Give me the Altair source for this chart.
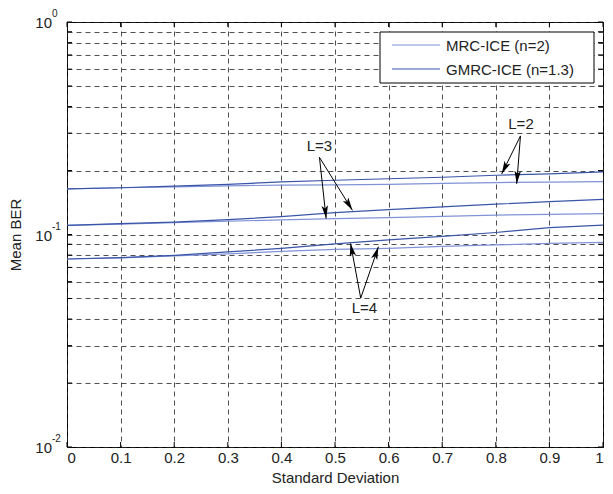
import math
import altair as alt
import pandas as pd

# ---------------- data ----------------
x_vals = [0.0, 0.1, 0.2, 0.3, 0.4, 0.5, 0.6, 0.7, 0.8, 0.9, 1.0]

gmrc_L2 = [0.164, 0.166, 0.169, 0.172, 0.177, 0.180, 0.183, 0.186, 0.190, 0.193, 0.197]
mrc_L2 = [0.164, 0.166, 0.1676, 0.1695, 0.1707, 0.1712, 0.1722, 0.1740, 0.1756, 0.1765, 0.1775]
gmrc_L3 = [0.1105, 0.1126, 0.1144, 0.1175, 0.1214, 0.1267, 0.1309, 0.1348, 0.1389, 0.1427, 0.1462]
mrc_L3 = [0.1105, 0.1119, 0.1138, 0.1156, 0.1171, 0.1188, 0.1201, 0.1218, 0.1234, 0.1243, 0.1253]
gmrc_L4 = [0.0767, 0.0778, 0.0798, 0.0828, 0.0860, 0.0903, 0.0943, 0.0979, 0.1022, 0.1078, 0.1108]
mrc_L4 = [0.0767, 0.0776, 0.0793, 0.0811, 0.0833, 0.0851, 0.0860, 0.0879, 0.0893, 0.0908, 0.0918]

series_names = ["MRC-ICE (n=2)", "GMRC-ICE (n=1.3)"]
series_colors = ["#8193d6", "#3a55a8"]

x_ticks = [0.0, 0.1, 0.2, 0.3, 0.4, 0.5, 0.6, 0.7, 0.8, 0.9, 1.0]
y_ticks = [0.01, 0.02, 0.03, 0.04, 0.05, 0.06, 0.07, 0.08, 0.09,
           0.1, 0.2, 0.3, 0.4, 0.5, 0.6, 0.7, 0.8, 0.9, 1.0]
y_major = [0.01, 0.1, 1.0]
y_major_exp = ["-2", "-1", "0"]

ann_text = ["L=2", "L=3", "L=4"]
ann_x = [0.847, 0.471, 0.555]
ann_y = [0.330, 0.261, 0.0451]

arrow_x1 = [0.846, 0.846, 0.471, 0.471, 0.548, 0.548]
arrow_y1 = [0.291, 0.291, 0.2307, 0.2307, 0.0502, 0.0502]
arrow_x2 = [0.811, 0.839, 0.4835, 0.5325, 0.529, 0.581]
arrow_y2 = [0.1928, 0.1731, 0.1188, 0.1299, 0.0908, 0.0876]

# ---------------- layout ----------------
W, H = 536, 425
FONT = "Liberation Sans"
TXT = "#222222"

rows = []
for L, mrc, gmrc in [("2", mrc_L2, gmrc_L2), ("3", mrc_L3, gmrc_L3), ("4", mrc_L4, gmrc_L4)]:
    for name, vals in zip(series_names, [mrc, gmrc]):
        for xv, yv in zip(x_vals, vals):
            rows.append({"x": xv, "ber": yv, "scheme": name, "curve": name + L})
df = pd.DataFrame(rows)

xs = alt.Scale(domain=[0, 1], nice=False, zero=False)
ys = alt.Scale(type="log", domain=[0.01, 1], nice=False)
cs = alt.Scale(domain=series_names, range=series_colors)

ax_x = alt.Axis(
    values=x_ticks, title="Standard Deviation", grid=True, ticks=False, domain=False,
    labelExpr="datum.value == 0 ? '0' : (datum.value == 1 ? '1' : format(datum.value, '.1f'))",
    labelFontSize=15, labelFont=FONT, labelColor=TXT, labelPadding=3,
    titleFontSize=15, titleFont=FONT, titleFontWeight="normal", titleColor=TXT, titlePadding=5,
    gridDash=[5, 4], gridColor="#222222", gridWidth=0.8)
ax_y = alt.Axis(
    values=y_ticks, title="Mean BER", grid=True, ticks=False, domain=False, labels=False,
    titleFontSize=15, titleFont=FONT, titleFontWeight="normal", titleColor=TXT, titlePadding=44,
    gridDash=[5, 4], gridColor="#222222", gridWidth=0.8)

XA = lambda f: alt.X(f, scale=xs, axis=ax_x)
YA = lambda f: alt.Y(f, scale=ys, axis=ax_y)

lines = alt.Chart(df).mark_line(strokeWidth=1.2).encode(
    x=XA("x:Q"), y=YA("ber:Q"),
    color=alt.Color("scheme:N", scale=cs, legend=None),
    detail="curve:N",
)

# inward ticks on all four sides
xt = pd.DataFrame({"x": x_ticks})
yt = pd.DataFrame({"ber": y_ticks})
tick_b = alt.Chart(xt).mark_rule(color="black", strokeWidth=1).encode(
    x=XA("x:Q"), y=alt.value(H), y2=alt.value(H - 5))
tick_t = alt.Chart(xt).mark_rule(color="black", strokeWidth=1).encode(
    x=XA("x:Q"), y=alt.value(0), y2=alt.value(5))
tick_l = alt.Chart(yt).mark_rule(color="black", strokeWidth=1).encode(
    y=YA("ber:Q"), x=alt.value(0), x2=alt.value(5))
tick_r = alt.Chart(yt).mark_rule(color="black", strokeWidth=1).encode(
    y=YA("ber:Q"), x=alt.value(W), x2=alt.value(W - 5))

# y tick labels 10^k
ym = pd.DataFrame({"ber": y_major, "base": ["10"] * 3, "exp": y_major_exp})
ylab_base = alt.Chart(ym).mark_text(align="right", baseline="middle", fontSize=15, font=FONT,
                                    color=TXT, dy=1).encode(
    y=YA("ber:Q"), x=alt.value(-15), text="base:N")
ylab_exp = alt.Chart(ym).mark_text(align="left", baseline="middle", fontSize=10, font=FONT,
                                   color=TXT, dy=-8).encode(
    y=YA("ber:Q"), x=alt.value(-15), text="exp:N")

# annotations
ann = pd.DataFrame({"x": ann_x, "ber": ann_y, "t": ann_text})
ann_layer = alt.Chart(ann).mark_text(fontSize=15, font=FONT, color=TXT, baseline="middle").encode(
    x=XA("x:Q"), y=YA("ber:Q"), text="t:N")

angles = []
for x1, y1, x2, y2 in zip(arrow_x1, arrow_y1, arrow_x2, arrow_y2):
    dx = (x2 - x1) * W
    dy = -(math.log10(y2) - math.log10(y1)) * H / 2
    angles.append(math.degrees(math.atan2(dx, -dy)) % 360)
arr = pd.DataFrame({"x": arrow_x1, "ber": arrow_y1, "x2": arrow_x2, "ber2": arrow_y2, "ang": angles})
shafts = alt.Chart(arr).mark_rule(color="black", strokeWidth=1).encode(
    x=XA("x:Q"), y=YA("ber:Q"), x2="x2:Q", y2="ber2:Q")
heads = alt.Chart(arr).mark_point(shape="M0,0 L-0.5,2 L0,1.55 L0.5,2 Z", filled=True, size=169,
                                  color="black", opacity=1, strokeWidth=0).encode(
    x=XA("x2:Q"), y=YA("ber2:Q"), angle=alt.Angle("ang:Q", scale=None))

# legend (drawn manually)
BX1, BX2 = W - 9 - 214, W - 9
leg_box = alt.Chart(pd.DataFrame({"k": [0]})).mark_rect(fill="white", stroke="black", strokeWidth=1).encode(
    x=alt.value(BX1), x2=alt.value(BX2), y=alt.value(10), y2=alt.value(61))
leg_layers = []
for i, (name, ry) in enumerate(zip(series_names, [23, 47])):
    d = pd.DataFrame({"scheme": [name]})
    leg_layers.append(alt.Chart(d).mark_rule(strokeWidth=1.2).encode(
        x=alt.value(BX1 + 12), x2=alt.value(BX1 + 60), y=alt.value(ry),
        color=alt.Color("scheme:N", scale=cs, legend=None)))
    leg_layers.append(alt.Chart(d).mark_text(align="left", baseline="middle", fontSize=15, font=FONT,
                                             color=TXT).encode(
        x=alt.value(BX1 + 66), y=alt.value(ry + 1), text="scheme:N"))

chart = alt.layer(
    lines, tick_b, tick_t, tick_l, tick_r, ylab_base, ylab_exp,
    ann_layer, shafts, heads, leg_box, *leg_layers
).properties(
    width=W, height=H,
    autosize=alt.AutoSizeParams(type="none"),
    padding={"left": 59, "top": 14, "right": 1, "bottom": 38},
    background="white",
).configure_view(stroke="black", strokeWidth=1)

chart.save("out.html", embed_options={"renderer": "svg", "actions": False})
